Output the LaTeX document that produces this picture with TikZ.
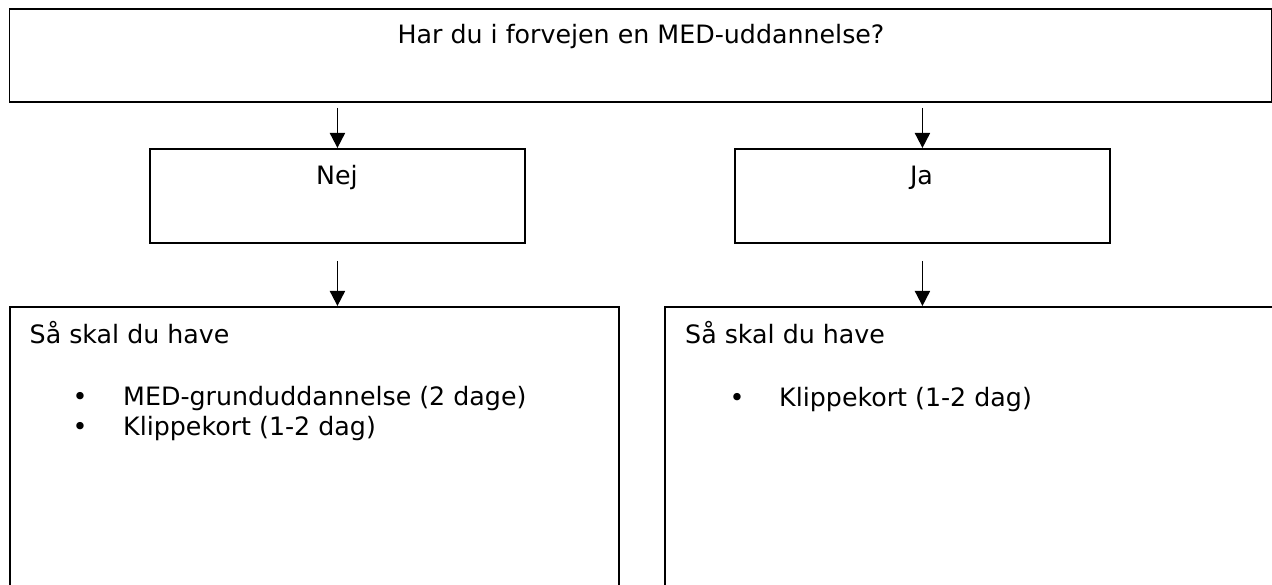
\documentclass[tikz,border=0pt]{standalone}
\usepackage{fontspec}
\setmainfont{DejaVu Sans}
\usetikzlibrary{arrows.meta}
\begin{document}
\begin{tikzpicture}[x=1pt,y=-1pt,
  box/.style={draw=black,line width=1.9pt,inner sep=0pt,anchor=north west},
  txt/.style={font=\fontsize{25.3}{30}\selectfont,inner sep=0pt},
  arr/.style={line width=1.9pt,-{Triangle[length=15pt,width=15pt]}}]
\useasboundingbox (0,0) rectangle (1272,585);
\clip (0,0) rectangle (1272,585);
\fill[white] (0,0) rectangle (1272,585);
% boxes
\node[box,minimum width=1262.5pt,minimum height=93pt] (q) at (8.5,8) {};
\node[box,minimum width=375pt,minimum height=94pt] (nej) at (149,148) {};
\node[box,minimum width=375pt,minimum height=94pt] (ja) at (734,148) {};
\node[box,minimum width=609pt,minimum height=400pt] (lb) at (9,306) {};
\node[box,minimum width=700pt,minimum height=400pt] (rb) at (664,306) {};
% texts
\node[txt,anchor=base] (qt) at (641,43.5) {Har du i forvejen en MED-uddannelse?};
\node[txt,anchor=base] (nejt) at (337,184.5) {Nej};
\node[txt,anchor=base] (jat) at (921.5,184.5) {Ja};
\node[txt,anchor=base west] (lh) at (29.5,343.5) {Så skal du have};
\node[txt,anchor=base] (lb1) at (80,405) {•};
\node[txt,anchor=base west] (li1) at (123,405) {MED-grunduddannelse (2 dage)};
\node[txt,anchor=base] (lb2) at (80,435) {•};
\node[txt,anchor=base west] (li2) at (123,435) {Klippekort (1-2 dag)};
\node[txt,anchor=base west] (rh) at (685,343.5) {Så skal du have};
\node[txt,anchor=base] (rb1) at (737,406) {•};
\node[txt,anchor=base west] (ri1) at (779,406) {Klippekort (1-2 dag)};
% arrows
\draw[arr,shorten <=5pt] (q.south -| nej.north) -- (nej.north);
\draw[arr,shorten <=5pt] (q.south -| ja.north) -- (ja.north);
\draw[arr,shorten <=17pt] (nej.south) -- (nej.south |- lb.north);
\draw[arr,shorten <=17pt] (ja.south) -- (ja.south |- rb.north);
\end{tikzpicture}
\end{document}
